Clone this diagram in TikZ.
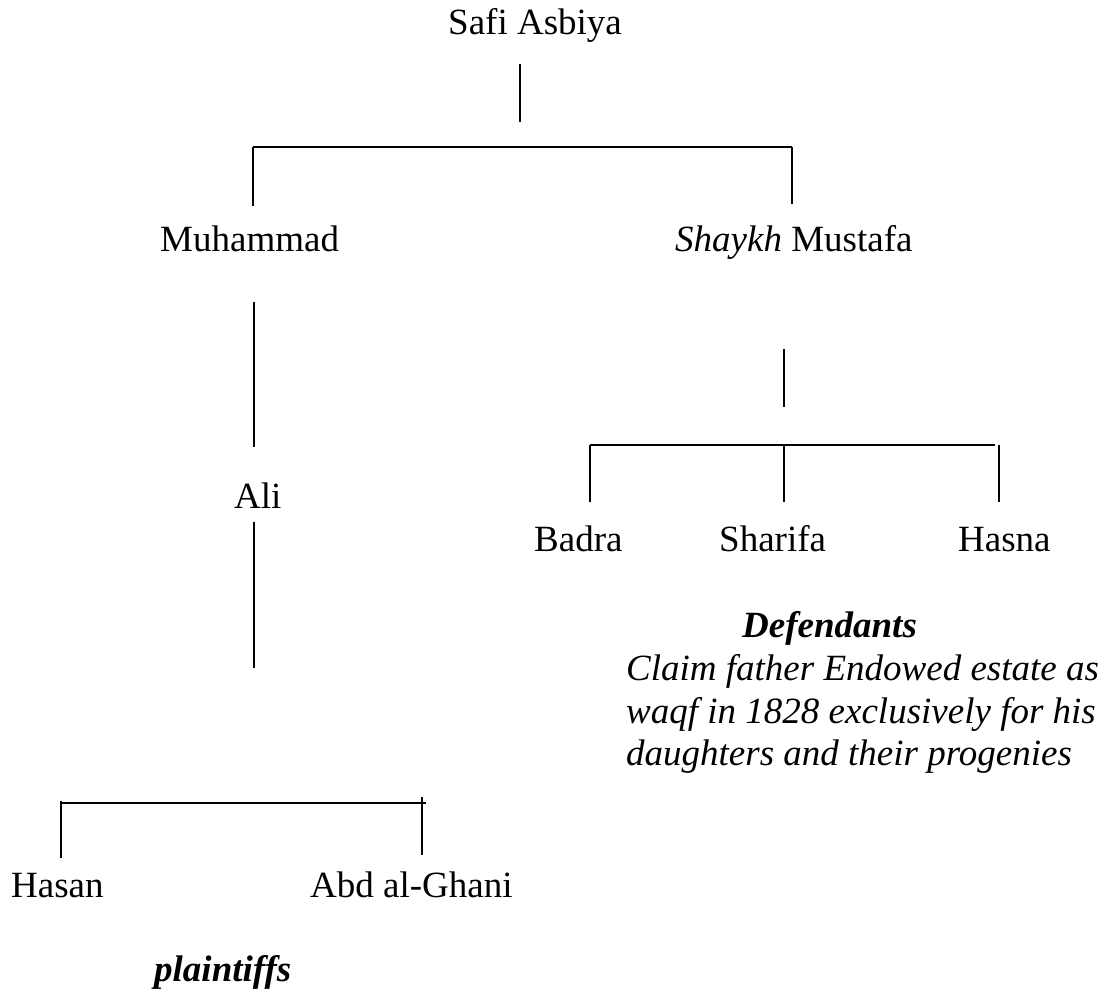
\documentclass[tikz,border=0pt]{standalone}
\usepackage{fontspec}
\setmainfont{Liberation Serif}
\begin{document}
\begin{tikzpicture}[x=1pt,y=-1pt,
  lbl/.style={anchor=base west,inner sep=0pt,font=\fontsize{37}{42.5}\selectfont},
  vline/.style={line width=1.3pt},
  hline/.style={line width=2.2pt}]
\useasboundingbox (0,0) rectangle (1112,992);
% texts
\node[lbl] (safi) at (448,35) {Safi Asbiya};
\node[lbl] (muh) at (160,252) {Muhammad};
\node[lbl] (must) at (675,252) {\textit{Shaykh} Mustafa};
\node[lbl] (ali) at (234,508) {Ali};
\node[lbl] (badra) at (534,551) {Badra};
\node[lbl] (sharifa) at (719,551) {Sharifa};
\node[lbl] (hasna) at (958,551) {Hasna};
\node[lbl,font=\fontsize{37}{42.5}\selectfont\bfseries\itshape] (def) at (742,637) {Defendants};
\node[lbl,font=\fontsize{37}{42.5}\selectfont\itshape] (claimA) at (626,680) {Claim father Endowed estate as};
\node[lbl,font=\fontsize{37}{42.5}\selectfont\itshape] (claimB) at (626,723) {waqf in 1828 exclusively for his};
\node[lbl,font=\fontsize{37}{42.5}\selectfont\itshape] (claimC) at (626,765) {daughters and their progenies};
\node[lbl] (hasan) at (11,897) {Hasan};
\node[lbl] (ghani) at (310,897) {Abd al-Ghani};
\node[lbl,font=\fontsize{37}{42.5}\selectfont\bfseries\itshape] (plain) at (154,981) {plaintiffs};
% connector coordinates
\coordinate (s1) at (520,64);   \coordinate (s2) at (520,122);
\coordinate (h1l) at (253,147); \coordinate (h1r) at (792,147);
\coordinate (m1) at (253,206);  \coordinate (r1) at (792,204);
\coordinate (a1) at (254,302);  \coordinate (a2) at (254,447);
\coordinate (a3) at (254,522);  \coordinate (a4) at (254,668);
\coordinate (k1) at (784,349);  \coordinate (k2) at (784,407);
\coordinate (h2l) at (590,445); \coordinate (h2m) at (784,445); \coordinate (h2r) at (995,445);
\coordinate (d1) at (590,502);  \coordinate (d2) at (784,502);
\coordinate (d3t) at (999,445); \coordinate (d3) at (999,502);
\coordinate (h3l) at (60,803);  \coordinate (h3r) at (426,803);
\coordinate (e1t) at (61,801);  \coordinate (e1) at (61,858);
\coordinate (e2t) at (422,797); \coordinate (e2) at (422,855);
% connectors
\draw[vline] (s1) -- (s2);
\draw[hline] (h1l) -- (h1r);
\draw[vline] (h1l) -- (m1);
\draw[vline] (h1r) -- (r1);
\draw[vline] (a1) -- (a2);
\draw[vline] (a3) -- (a4);
\draw[vline] (k1) -- (k2);
\draw[hline] (h2l) -- (h2r);
\draw[vline] (h2l) -- (d1);
\draw[vline] (h2m) -- (d2);
\draw[vline] (d3t) -- (d3);
\draw[hline] (h3l) -- (h3r);
\draw[vline] (e1t) -- (e1);
\draw[vline] (e2t) -- (e2);
\end{tikzpicture}
\end{document}
